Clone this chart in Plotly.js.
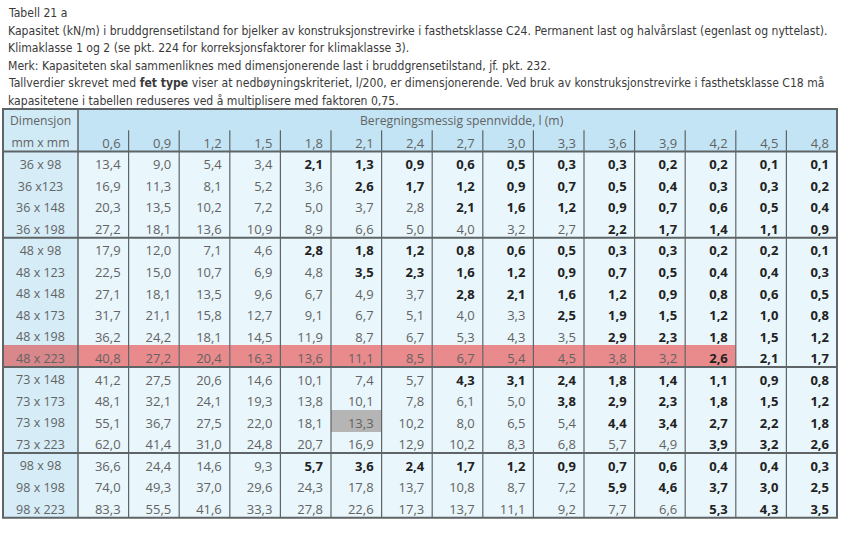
<!DOCTYPE html>
<html><head><meta charset="utf-8">
<script src="https://cdn.plot.ly/plotly-3.0.1.min.js"></script>
<style>html,body{margin:0;padding:0;background:#fff}</style>
</head><body><div id="chart" style="width:850px;height:533px"></div>
<script>
// ---- text ----
const introLines = [
  "Tabell 21 a",
  "Kapasitet (kN/m) i bruddgrensetilstand for bjelker av konstruksjonstrevirke i fasthetsklasse C24. Permanent last og halvårslast (egenlast og nyttelast).",
  "Klimaklasse 1 og 2 (se pkt. 224 for korreksjonsfaktorer for klimaklasse 3).",
  "Merk: Kapasiteten skal sammenliknes med dimensjonerende last i bruddgrensetilstand, jf. pkt. 232.",
  "Tallverdier skrevet med <b>fet type</b> viser at nedbøyningskriteriet, l/200, er dimensjonerende. Ved bruk av konstruksjonstrevirke i fasthetsklasse C18 må",
  "kapasitetene i tabellen reduseres ved å multiplisere med faktoren 0,75."
];
const headDim = ["Dimensjon", "mm x mm"];
const headSpan = "Beregningsmessig spennvidde, l (m)";
const spans = ["0,6","0,9","1,2","1,5","1,8","2,1","2,4","2,7","3,0","3,3","3,6","3,9","4,2","4,5","4,8"];
const dims = ["36 x 98","36 x123","36 x 148","36 x 198","48 x 98","48 x 123","48 x 148","48 x 173","48 x 198","48 x 223","73 x 148","73 x 173","73 x 198","73 x 223","98 x 98","98 x 198","98 x 223"];
// ---- values (kN/m) ----
const capacity = [
  [13.4,9.0,5.4,3.4,2.1,1.3,0.9,0.6,0.5,0.3,0.3,0.2,0.2,0.1,0.1],
  [16.9,11.3,8.1,5.2,3.6,2.6,1.7,1.2,0.9,0.7,0.5,0.4,0.3,0.3,0.2],
  [20.3,13.5,10.2,7.2,5.0,3.7,2.8,2.1,1.6,1.2,0.9,0.7,0.6,0.5,0.4],
  [27.2,18.1,13.6,10.9,8.9,6.6,5.0,4.0,3.2,2.7,2.2,1.7,1.4,1.1,0.9],
  [17.9,12.0,7.1,4.6,2.8,1.8,1.2,0.8,0.6,0.5,0.3,0.3,0.2,0.2,0.1],
  [22.5,15.0,10.7,6.9,4.8,3.5,2.3,1.6,1.2,0.9,0.7,0.5,0.4,0.4,0.3],
  [27.1,18.1,13.5,9.6,6.7,4.9,3.7,2.8,2.1,1.6,1.2,0.9,0.8,0.6,0.5],
  [31.7,21.1,15.8,12.7,9.1,6.7,5.1,4.0,3.3,2.5,1.9,1.5,1.2,1.0,0.8],
  [36.2,24.2,18.1,14.5,11.9,8.7,6.7,5.3,4.3,3.5,2.9,2.3,1.8,1.5,1.2],
  [40.8,27.2,20.4,16.3,13.6,11.1,8.5,6.7,5.4,4.5,3.8,3.2,2.6,2.1,1.7],
  [41.2,27.5,20.6,14.6,10.1,7.4,5.7,4.3,3.1,2.4,1.8,1.4,1.1,0.9,0.8],
  [48.1,32.1,24.1,19.3,13.8,10.1,7.8,6.1,5.0,3.8,2.9,2.3,1.8,1.5,1.2],
  [55.1,36.7,27.5,22.0,18.1,13.3,10.2,8.0,6.5,5.4,4.4,3.4,2.7,2.2,1.8],
  [62.0,41.4,31.0,24.8,20.7,16.9,12.9,10.2,8.3,6.8,5.7,4.9,3.9,3.2,2.6],
  [36.6,24.4,14.6,9.3,5.7,3.6,2.4,1.7,1.2,0.9,0.7,0.6,0.4,0.4,0.3],
  [74.0,49.3,37.0,29.6,24.3,17.8,13.7,10.8,8.7,7.2,5.9,4.6,3.7,3.0,2.5],
  [83.3,55.5,41.6,33.3,27.8,22.6,17.3,13.7,11.1,9.2,7.7,6.6,5.3,4.3,3.5]
];
// first span index (per row) where the value is printed in bold
const boldFrom = [4,5,7,10,4,5,7,9,10,12,7,9,10,12,4,10,12];
// group sizes (rows between thick separators)
const groups = [4,6,4,3];

// ---- styling ----
const W = 850, H = 533;
const TL = 3, TR = 837, TT = 109, TB = 517.7;
const H1 = 21.3, H2 = 21.3;
const dimW = 75;
const nCols = spans.length, nRows = dims.length;
const numW = (TR - TL - dimW) / nCols;
const rowH = (TB - TT - H1 - H2) / nRows;
const redRow = 9, redLastCol = 12;
const greyRow = 12, greyCol = 5;
const C = {
  head: "#c2e4f4", headDim: "#d0eaf6", cell: "#e9f6fb", dim: "#d6edf8",
  red: "#e98a8c", redDim: "#d8878b", grey: "#b5b5b5",
  txt: "#636363", bold: "#222222", line: "#5f6466"
};
const FONT = "Open Sans, Noto Sans, sans-serif";
const FS = 13, FSL = 12.2;
const nb = s => s.replace(/ /g, "\u00a0");
const fmt = v => v.toFixed(1).replace(".", ",");
const px = x => x / W, py = y => 1 - y / H;

// build cells
const colVals = [dims.map(nb)], colFill = [], colFont = [], colWeight = [], colSize = [];
colFill.push(dims.map((d, r) => r === redRow ? C.redDim : C.dim));
colFont.push(dims.map(() => C.txt));
colWeight.push(dims.map(() => "normal"));
colSize.push(dims.map(() => FSL + 0.3));
for (let c = 0; c < nCols; c++) {
  const vals = [], fills = [], fonts = [], wts = [], szs = [];
  for (let r = 0; r < nRows; r++) {
    const b = c >= boldFrom[r];
    vals.push(fmt(capacity[r][c]));
    fonts.push(b ? C.bold : C.txt);
    wts.push(b ? "bold" : "normal");
    szs.push(FS);
    let f = C.cell;
    if (r === redRow && c <= redLastCol) f = C.red;
    if (r === greyRow && c === greyCol) f = C.grey;
    fills.push(f);
  }
  colVals.push(vals); colFill.push(fills); colFont.push(fonts); colWeight.push(wts); colSize.push(szs);
}
const widths = [dimW].concat(spans.map(() => numW));

const traceMain = {
  type: "table",
  domain: {x: [px(TL), px(TR)], y: [py(TB + 2), py(TT + H1)]},
  columnwidth: widths,
  header: {
    values: [nb(headDim[1])].concat(spans),
    height: H2,
    align: ["center"].concat(spans.map(() => "right")),
    fill: {color: [C.headDim].concat(spans.map(() => C.head))},
    line: {width: 0, color: C.head},
    font: {family: FONT, size: [FSL].concat(spans.map(() => FS)), color: C.txt}
  },
  cells: {
    values: colVals,
    height: rowH,
    align: ["center"].concat(spans.map(() => "right")),
    fill: {color: colFill},
    line: {width: 0, color: C.cell},
    font: {family: FONT, size: colSize, color: colFont, weight: colWeight}
  }
};

// top header row backgrounds + grid lines
const shapes = [
  {type: "rect", xref: "paper", yref: "paper", layer: "below", x0: px(TL), x1: px(TL + dimW), y0: py(TT + H1 + 0.5), y1: py(TT),
   fillcolor: C.headDim, line: {width: 0}},
  {type: "rect", xref: "paper", yref: "paper", layer: "below", x0: px(TL + dimW), x1: px(TR), y0: py(TT + H1 + 0.5), y1: py(TT),
   fillcolor: C.head, line: {width: 0}}
];
const ln = (x0, y0, x1, y1, w) => shapes.push({type: "line", xref: "paper", yref: "paper",
  x0: px(x0), y0: py(y0), x1: px(x1), y1: py(y1), line: {color: C.line, width: w}});
const dataTop = TT + H1 + H2;
ln(TL + dimW, TT, TL + dimW, TB, 1.5);
for (let c = 1; c < nCols; c++) { const x = TL + dimW + c * numW; ln(x, TT + H1, x, TB, 1.2); }
ln(TL, dataTop, TR, dataTop, 2);
let acc = 0;
groups.slice(0, -1).forEach(g => { acc += g; const y = dataTop + acc * rowH; ln(TL, y, TR, y, 2); });
shapes.push({type: "rect", xref: "paper", yref: "paper", x0: px(TL), x1: px(TR), y0: py(TB), y1: py(TT),
  line: {color: C.line, width: 2}});

const annotations = introLines.map((t, i) => ({
  xref: "paper", yref: "paper", x: px(6), y: py(13 + i * 17.6), xanchor: "left", yanchor: "middle",
  showarrow: false, text: t, align: "left",
  font: {family: "Liberation Sans Narrow, DejaVu Sans Condensed, sans-serif", size: 12.1, color: "#3a3a3a"}
}));
annotations.push({xref: "paper", yref: "paper", x: px(TL + dimW / 2), y: py(TT + H1 / 2 + 0.5),
  xanchor: "center", yanchor: "middle", showarrow: false, text: headDim[0],
  font: {family: FONT, size: FSL, color: C.txt}});
annotations.push({xref: "paper", yref: "paper", x: px((TL + dimW + TR) / 2 + 5), y: py(TT + H1 / 2 + 0.5),
  xanchor: "center", yanchor: "middle", showarrow: false, text: headSpan,
  font: {family: FONT, size: FSL, color: C.txt}});

Plotly.newPlot("chart", [traceMain], {
  width: W, height: H, margin: {l: 0, r: 0, t: 0, b: 0},
  paper_bgcolor: "#ffffff", shapes: shapes, annotations: annotations
}, {displayModeBar: false, staticPlot: true});
</script></body></html>
